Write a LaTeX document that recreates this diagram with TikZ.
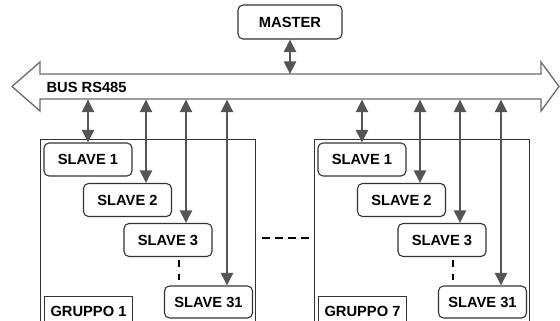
\documentclass[tikz,border=0pt]{standalone}
\usepackage{fontspec}
\setmainfont{Liberation Sans}
\usetikzlibrary{arrows.meta}
\definecolor{arrgray}{HTML}{555555}
\definecolor{busgray}{HTML}{6A6A6A}
\definecolor{boxline}{HTML}{333333}
\tikzset{
  lbl/.style={font=\fontsize{14.7}{16}\selectfont\bfseries},
  slavebox/.style={lbl, draw=boxline, line width=1.1pt, rounded corners=5pt,
    minimum width=88pt, minimum height=33pt, inner sep=0pt, fill=white},
  grpbox/.style={lbl, draw=boxline, line width=1pt, anchor=north west,
    minimum width=88pt, inner xsep=0pt, inner ysep=9.5pt, text height=10.5pt, text depth=25pt},
  arr/.style={draw=arrgray, line width=2.2pt, {Triangle[length=12.5pt,width=12pt]}-{Triangle[length=12.5pt,width=12pt]}},
  dashline/.style={draw=black, line width=1.7pt, dash pattern=on 7.5pt off 5.5pt},
  container/.style={draw=boxline, line width=1pt},
}
\begin{document}
\begin{tikzpicture}[x=1pt,y=-1pt]
\useasboundingbox (0,0) rectangle (560,321);
\clip (0,0) rectangle (560,321);
% bus
\draw[busgray, line width=1.3pt, fill=white, line join=miter]
  (40,74) -- (541,74) -- (541,62) -- (559,86.5) -- (541,111) -- (541,99)
  -- (40,99) -- (40,111) -- (12,86.5) -- (40,62) -- cycle;
\node[lbl, anchor=west] (buslabel) at (43,87) {BUS RS485};
% master
\node[slavebox, minimum width=104pt, minimum height=34pt] (master) at (290,22) {MASTER};
\coordinate (mbus) at (290,74);
\draw[arr] (master.south) -- (mbus);
% groups
\foreach \g/\n/\dx in {1/1/0, 7/7/274} {
  \begin{scope}[xshift=\dx pt]
    \draw[container] (40.7,330) -- (40.7,139) -- (255.7,139) -- (255.7,330);
    \node[slavebox] (s1g\g) at (88,159.5) {SLAVE 1};
    \node[slavebox] (s2g\g) at (127.5,200) {SLAVE 2};
    \node[slavebox] (s3g\g) at (168,240) {SLAVE 3};
    \node[slavebox, minimum height=32pt] (s31g\g) at (208.5,302) {SLAVE 31};
    \node[grpbox] (grp\g) at (44,296) {GRUPPO \n};
    \coordinate (b1g\g) at (88,99.6);
    \coordinate (b2g\g) at (146,99.6);
    \coordinate (b3g\g) at (186,99.6);
    \coordinate (b31g\g) at (227,99.6);
    \draw[arr] (b1g\g) -- (s1g\g.north);
    \draw[arr] (b2g\g) -- (b2g\g |- s2g\g.north);
    \draw[arr] (b3g\g) -- (b3g\g |- s3g\g.north);
    \draw[arr] (b31g\g) -- (b31g\g |- s31g\g.north);
    \draw[dashline, dash pattern=on 7pt off 6.5pt]
      ([xshift=11pt,yshift=-3pt]s3g\g.south) -- ([xshift=-29.5pt,yshift=5pt]s31g\g.north);
  \end{scope}
}
\coordinate (gapl) at (262,238);
\coordinate (gapr) at (310,238);
\draw[dashline] (gapl) -- (gapr);
\end{tikzpicture}
\end{document}
